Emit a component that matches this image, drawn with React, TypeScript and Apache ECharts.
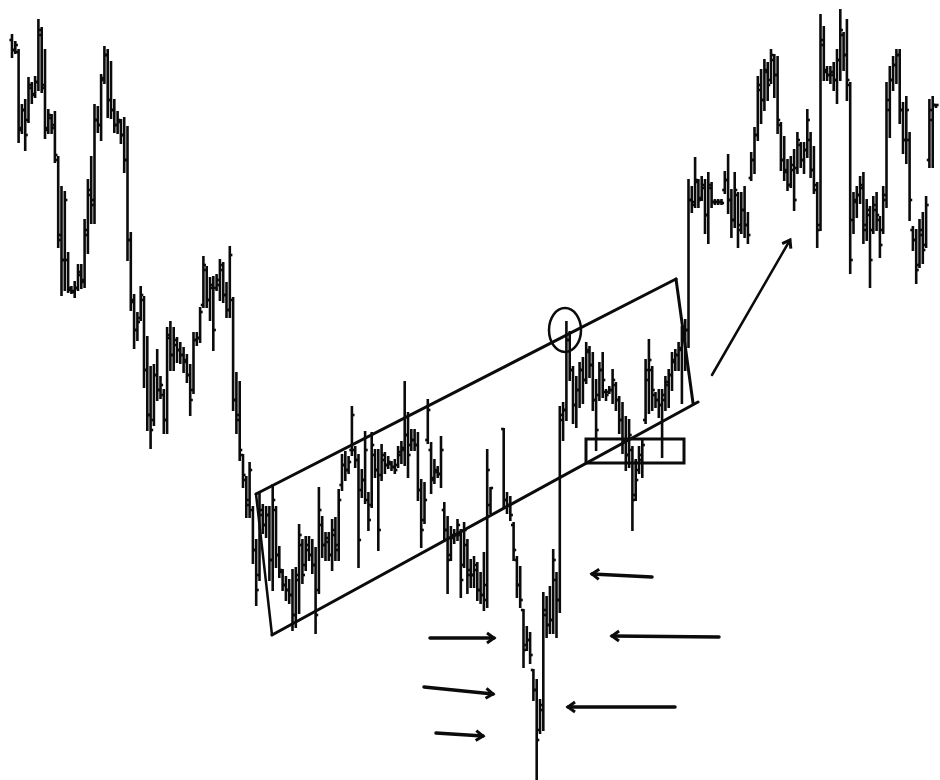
import React, { useEffect, useRef } from "react";
import * as echarts from "echarts";

// OHLC bars, price units (open, high, low, close); null = no bar in that slot
const ohlc: (number[] | null)[] = [
  [760,765,743,750],[750,758,747,755],[748,750,658,670],[672,695,667,690],[690,700,650,665],
  [680,722,678,715],[712,717,697,705],[706,723,703,718],[718,780,710,770],[765,772,708,715],
  [712,750,662,670],[672,690,667,685],[682,685,667,672],[675,688,638,645],[640,643,553,560],
  [565,613,505,540],[540,608,510,600],[540,547,508,512],[510,513,507,509],[508,518,503,512],
  [512,535,510,528],[525,535,512,518],[520,580,513,570],[565,620,547,610],[605,643,577,595],
  [600,695,577,680],[680,693,668,675],[675,725,660,720],[722,753,717,745],[745,750,683,700],
  [700,738,682,690],[690,700,668,675],[675,688,667,680],[678,680,657,665],[665,682,628,640],
  [640,673,540,560],[560,567,490,500],[498,505,452,470],[470,487,460,478],[482,513,480,505],
  [500,503,413,430],[430,463,370,385],[385,433,352,370],[380,435,375,425],[425,450,400,410],
  [410,423,402,415],[405,410,367,380],[380,472,367,465],[462,478,430,445],[445,472,430,460],
  [455,462,438,450],[450,457,437,445],[445,452,428,440],[438,445,418,425],[425,435,385,400],
  [410,467,407,460],[460,467,455,462],[462,492,458,488],[495,543,493,535],[530,533,493,500],
  [500,522,480,515],[512,523,450,470],[512,525,510,520],[515,540,500,535],[530,537,498,505],
  [505,517,483,490],[490,553,483,545],[500,502,390,400],[400,427,367,380],[385,418,340,350],
  [345,345,313,325],[320,323,283,300],[295,337,283,330],[290,293,237,250],[250,260,195,210],
  [225,307,220,290],[285,295,267,275],[275,293,263,285],[285,293,220,240],[240,315,210,300],
  [290,293,233,245],[245,253,223,230],[228,230,210,215],[215,223,200,210],[210,220,197,205],
  [205,230,170,185],[185,232,173,225],[220,275,187,265],[255,260,217,225],[235,263,230,255],
  [250,263,240,245],[245,260,227,235],[235,252,167,185],[210,312,207,290],[275,283,243,255],
  [255,267,240,262],[258,267,240,245],[245,280,230,270],[265,282,240,250],[255,310,240,300],
  [315,345,310,335],[335,348,320,330],[330,343,327,338],[350,393,345,385],[350,353,333,340],
  [340,345,233,260],[310,330,303,320],[320,368,297,350],[300,307,270,280],[295,367,293,355],
  [345,350,323,330],[330,350,250,270],[325,355,320,345],[340,347,327,335],[335,343,332,338],
  [336,338,330,333],[333,340,327,330],[335,353,333,348],[345,358,337,352],[350,418,335,365],
  [365,387,323,345],[355,370,350,360],[360,370,350,355],[355,367,300,310],[310,320,253,270],
  [280,317,277,300],[360,400,357,390],[350,357,307,320],[322,340,317,330],[328,333,323,326],
  [326,363,313,350],[290,297,260,270],[270,283,207,240],[245,273,240,265],[262,270,257,265],
  [265,280,260,275],[265,270,203,220],[235,277,233,270],[255,260,207,225],[230,240,213,225],
  [225,243,213,235],[230,237,200,210],[210,227,197,205],[205,247,190,215],[200,350,193,330],
  [295,312,287,312],null,null,null,[371,371,293,300],
  [300,307,287,295],[295,303,280,285],[275,277,240,250],[240,243,203,215],[215,233,193,200],
  [190,190,133,150],[155,173,150,160],[160,167,137,145],[130,130,100,110],[110,120,20,60],
  [70,100,67,95],[90,207,70,190],[185,203,163,175],[175,213,167,180],[180,250,167,240],
  [220,227,163,200],[200,393,188,385],[380,397,360,390],[390,478,380,460],[460,468,420,430],
  [430,433,377,395],[395,423,373,410],[410,437,393,430],[430,442,397,420],[420,457,417,450],
  [448,453,423,435],[435,447,390,400],[400,420,350,370],[405,437,400,430],[430,447,403,420],
  [408,410,400,405],[408,413,407,410],[410,430,397,420],[415,417,390,400],[400,403,367,380],
  [380,397,347,360],[360,383,330,345],[345,380,333,365],[350,353,270,300],[305,340,300,320],
  [330,353,327,345],[340,360,323,355],[380,440,377,430],[420,460,387,440],[430,433,390,410],
  [405,407,393,400],[400,410,383,395],[395,410,343,405],[400,423,390,418],[415,430,393,425],
  [425,447,410,440],[438,450,430,445],[445,457,430,452],[450,473,397,465],[460,480,430,470],
  [470,620,453,600],[600,613,588,595],[598,642,593,620],[618,620,593,600],[602,623,600,615],
  [612,620,567,585],[585,627,557,615],[612,617,593,598],[598,600,596,598],[598,600,596,598],
  [598,600,596,597],[610,628,607,620],[620,645,587,600],[600,610,563,580],[580,627,573,610],
  [605,607,553,570],[575,607,567,590],[590,613,563,575],[575,587,557,565],[622,647,620,640],
  [640,672,627,665],[665,723,660,715],[710,730,677,700],[700,740,690,730],[728,737,700,715],
  [720,750,717,745],[740,745,703,725],[725,743,667,680],[675,677,630,640],[640,663,620,630],
  [628,640,610,615],[615,643,613,635],[630,650,590,600],[632,667,627,660],[655,657,633,640],
  [640,657,627,650],[650,690,643,680],[660,667,623,630],[630,653,607,615],[610,617,553,570],
  [575,785,570,760],[755,773,720,730],[728,733,720,725],[725,733,717,728],[725,737,710,720],
  [720,750,697,740],[740,790,720,770],[765,767,730,745],[745,780,700,720],[715,717,527,540],
  [580,607,567,600],[598,613,583,605],[605,623,597,615],[612,627,557,570],[575,600,560,590],
  [585,593,513,540],[570,603,567,595],[590,607,570,585],[580,583,543,555],[570,613,567,600],
  [605,717,593,700],[690,733,663,720],[720,743,710,735],[735,750,717,745],[745,750,677,690],
  [690,697,647,660],[660,703,637,690],[660,667,580,600],[570,573,550,560],[560,570,517,530],
  [535,580,533,570],[565,587,537,550],[555,603,553,595],[640,700,633,690],[680,703,633,695],
  [695,695,693,695],
];

const barLabels: string[] = ohlc.map((_, i) => `Bar ${i + 1}`);
const priceMin = 20;
const priceMax = 800;

const INK = "#0b0b0b";

function arrow(x1: number, y1: number, x2: number, y2: number, lw = 3.5) {
  const dx = x2 - x1, dy = y2 - y1;
  const len = Math.sqrt(dx * dx + dy * dy);
  const ux = dx / len, uy = dy / len;
  const hl = 7, hw = 5;
  const bx = x2 - ux * hl, by = y2 - uy * hl;
  return {
    type: "group",
    children: [
      { type: "line", shape: { x1, y1, x2, y2 }, style: { stroke: INK, lineWidth: lw, lineCap: "round" } },
      {
        type: "polyline",
        shape: { points: [[bx - uy * hw, by + ux * hw], [x2, y2], [bx + uy * hw, by - ux * hw]] },
        style: { stroke: INK, lineWidth: 3, fill: null, lineJoin: "miter" },
      },
    ],
  };
}

function line(x1: number, y1: number, x2: number, y2: number, lw = 3) {
  return { type: "line", shape: { x1, y1, x2, y2 }, style: { stroke: INK, lineWidth: lw, lineCap: "round" } };
}

export default function App() {
  const ref = useRef<HTMLDivElement>(null);
  useEffect(() => {
    if (!ref.current) return;
    const chart = echarts.init(ref.current, undefined, { renderer: "svg" });
    const seriesData = ohlc
      .map((b, i) => (b ? [i, b[0], b[1], b[2], b[3]] : null))
      .filter((d) => d !== null) as number[][];
    chart.setOption({
      animation: false,
      backgroundColor: "#ffffff",
      grid: { left: 10.35, right: 2.35, top: 0, bottom: 0, containLabel: false },
      xAxis: { type: "category", data: barLabels, show: false, boundaryGap: true },
      yAxis: { type: "value", min: priceMin, max: priceMax, show: false, splitLine: { show: false } },
      series: [
        {
          type: "custom",
          data: seriesData,
          encode: { x: 0, y: [1, 2, 3, 4] },
          clip: false,
          renderItem: (params: any, api: any) => {
            const i = api.value(0);
            const o = api.value(1), h = api.value(2), l = api.value(3), c = api.value(4);
            const top = api.coord([i, h]);
            const bot = api.coord([i, l]);
            const po = api.coord([i, o]);
            const pc = api.coord([i, c]);
            const w = 2.6;
            const st = { stroke: INK, lineWidth: 2.6 };
            return {
              type: "group",
              children: [
                { type: "line", shape: { x1: top[0], y1: top[1] - 1, x2: bot[0], y2: bot[1] + 1 }, style: st },
                { type: "line", shape: { x1: po[0] - w, y1: po[1], x2: po[0], y2: po[1] }, style: st },
                { type: "line", shape: { x1: pc[0], y1: pc[1], x2: pc[0] + w, y2: pc[1] }, style: st },
              ],
            };
          },
        },
      ],
      graphic: [
        // channel
        line(256, 494, 676, 279),
        line(676, 279, 693, 403),
        line(272, 635, 698, 402),
        line(256, 494, 272, 635, 2.5),
        // circle at false breakout
        { type: "ellipse", shape: { cx: 565, cy: 330, rx: 16, ry: 22 }, style: { stroke: INK, lineWidth: 2.5, fill: null } },
        // support box
        { type: "rect", shape: { x: 586, y: 439, width: 98, height: 24 }, style: { stroke: INK, lineWidth: 3, fill: null } },
        // breakout arrow
        arrow(712, 375, 790, 240, 2.5),
        // arrows pointing right
        arrow(430, 638, 494, 638),
        arrow(424, 687, 493, 694),
        arrow(436, 733, 483, 736),
        // arrows pointing left
        arrow(652, 577, 592, 574),
        arrow(719, 637, 612, 636),
        arrow(675, 707, 568, 707),
      ],
    });
    return () => chart.dispose();
  }, []);
  return (
    <div
      ref={ref}
      style={{ position: "fixed", left: 0, top: 0, width: 940, height: 780, background: "#fff" }}
    />
  );
}
